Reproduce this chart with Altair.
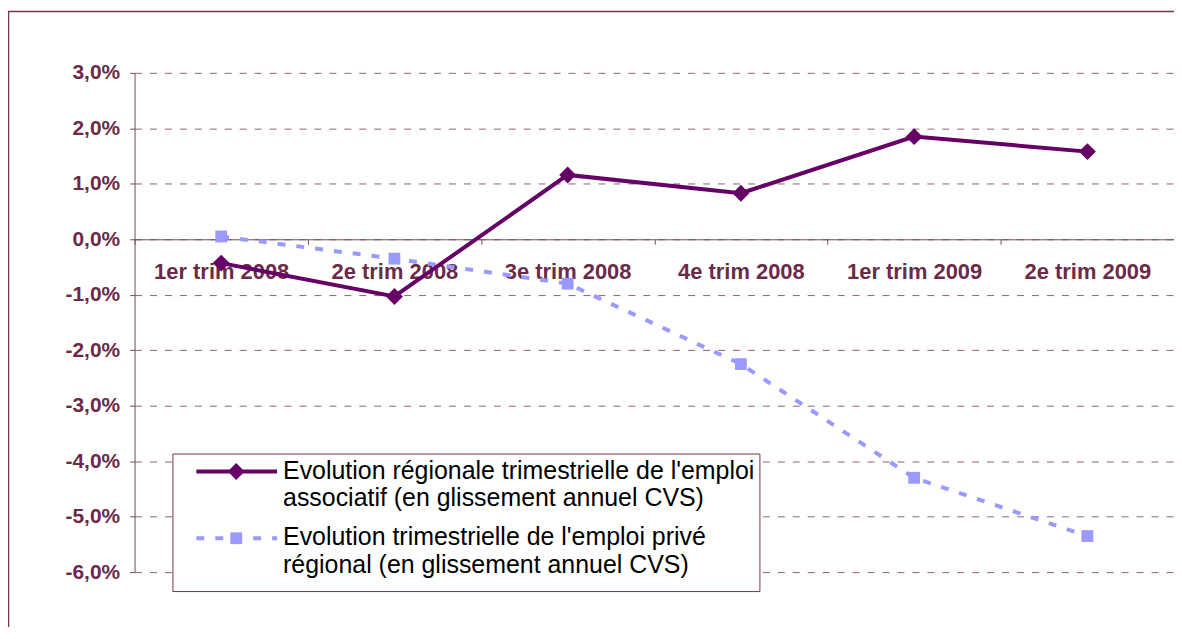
import altair as alt
import pandas as pd

categories = ["1er trim 2008", "2e trim 2008", "3e trim 2008", "4e trim 2008", "1er trim 2009", "2e trim 2009"]
associatif = [-0.43, -1.03, 1.16, 0.83, 1.85, 1.58]
prive = [0.05, -0.35, -0.80, -2.25, -4.30, -5.35]
y_ticks = [-6, -5, -4, -3, -2, -1, 0, 1, 2, 3]
legend_assoc = ["Evolution régionale trimestrielle de l'emploi", "associatif (en glissement annuel CVS)"]
legend_prive = ["Evolution trimestrielle de l'emploi privé", "régional (en glissement annuel CVS)"]

df = pd.DataFrame({"trim": categories, "assoc": associatif, "prive": prive})
one = pd.DataFrame({"k": [0]})

TEXT = "#6B2A48"
AX = "#7A4A60"
GRID = "#8E6276"
C_ASSOC = "#660066"
C_PRIVE = "#9999FF"
FONT = "Liberation Sans"

W, H = 1043, 501

x_enc = alt.X("trim:N", sort=categories,
              scale=alt.Scale(type="band", paddingInner=0, paddingOuter=0),
              axis=alt.Axis(title=None, orient="bottom", offset=-334, labelAngle=0,
                            tickBand="extent", tickSize=5, tickColor=AX, domainColor=AX,
                            labelFont=FONT, labelFontSize=22, labelFontWeight="bold",
                            labelColor=TEXT, labelPadding=17, labelBaseline="top", grid=False))

def y_enc(field):
    return alt.Y(f"{field}:Q",
                 scale=alt.Scale(domain=[-6, 3], nice=False, zero=False),
                 axis=alt.Axis(title=None, values=y_ticks,
                               labelExpr="(datum.value < 0 ? '-' : '') + replace(format(abs(datum.value), '.1f'), '.', ',') + '%'",
                               grid=True, gridDash=[7, 8], gridColor=GRID, gridWidth=1,
                               domainColor=AX, tickColor=AX, tickSize=5,
                               labelFont=FONT, labelFontSize=21, labelFontWeight="bold",
                               labelColor=TEXT, labelPadding=10))

border = alt.Chart(one).mark_rect(fillOpacity=0, stroke="#7A3050", strokeWidth=1.5).encode(
    x=alt.value(-126.5), x2=alt.value(W + 50), y=alt.value(-61.5), y2=alt.value(H + 150))

base = alt.Chart(df)
line_prive = base.mark_line(color=C_PRIVE, strokeWidth=4, strokeDash=[8, 11]).encode(x=x_enc, y=y_enc("prive"))
pts_prive = base.mark_point(shape="square", filled=True, color=C_PRIVE, size=140, opacity=1).encode(x=x_enc, y=y_enc("prive"))
line_assoc = base.mark_line(color=C_ASSOC, strokeWidth=4).encode(x=x_enc, y=y_enc("assoc"))
pts_assoc = base.mark_point(shape="diamond", filled=True, color=C_ASSOC, size=290, opacity=1).encode(x=x_enc, y=y_enc("assoc"))

ox, oy = 135, 72
leg = alt.Chart(one)
leg_box = leg.mark_rect(fill="white", stroke="#7A3050", strokeWidth=1).encode(
    x=alt.value(173.5 - ox), x2=alt.value(762.5 - ox), y=alt.value(454.5 - oy), y2=alt.value(592.5 - oy))
leg_l1 = leg.mark_rule(color=C_ASSOC, strokeWidth=4).encode(
    x=alt.value(197 - ox), x2=alt.value(278 - ox), y=alt.value(472 - oy))
leg_p1 = leg.mark_point(shape="diamond", filled=True, color=C_ASSOC, size=290, opacity=1).encode(
    x=alt.value(237 - ox), y=alt.value(472 - oy))
leg_l2 = leg.mark_rule(color=C_PRIVE, strokeWidth=4, strokeDash=[8, 11], strokeDashOffset=0).encode(
    x=alt.value(197 - ox), x2=alt.value(278 - ox), y=alt.value(539 - oy))
leg_p2 = leg.mark_point(shape="square", filled=True, color=C_PRIVE, size=140, opacity=1).encode(
    x=alt.value(237 - ox), y=alt.value(539 - oy))

def txt(s, ypix):
    return leg.mark_text(align="left", baseline="middle", font=FONT, fontSize=25, color="black").encode(
        x=alt.value(284 - ox), y=alt.value(ypix - oy), text=alt.value(s))

texts = [txt(legend_assoc[0], 472), txt(legend_assoc[1], 499),
         txt(legend_prive[0], 538), txt(legend_prive[1], 566)]

chart = alt.layer(border, line_prive, pts_prive, line_assoc, pts_assoc,
                  leg_box, leg_l1, leg_p1, leg_l2, leg_p2, *texts).properties(
    width=W, height=H,
    padding={"left": 127, "top": 64, "right": 0, "bottom": 54},
    autosize=alt.AutoSizeParams(type="none"),
).configure_view(stroke=None)

chart.save("out.html", embed_options={"renderer": "svg", "actions": False})
